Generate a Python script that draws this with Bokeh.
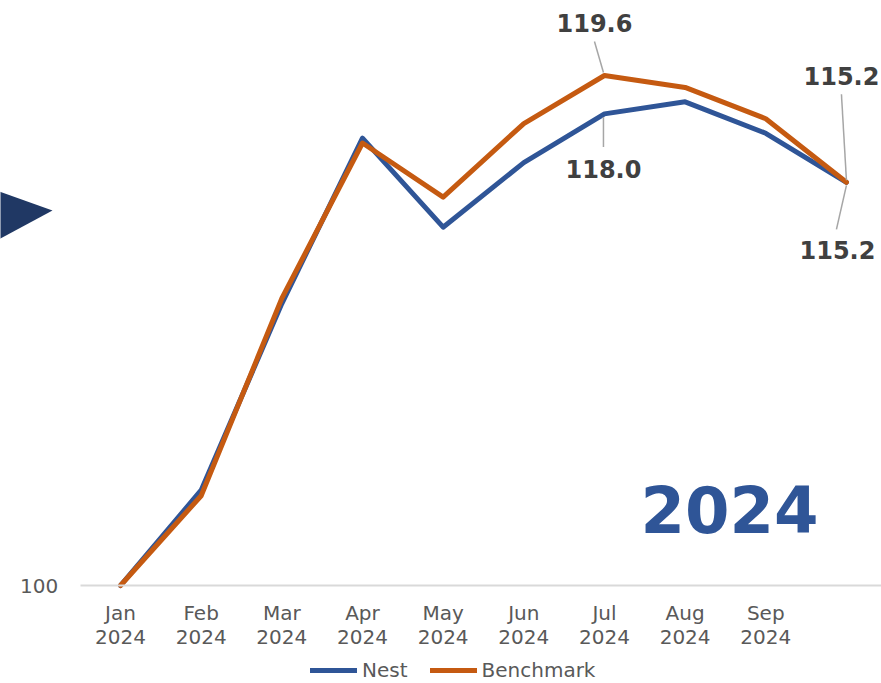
import math
from bokeh.plotting import figure
from bokeh.models import (Range1d, FixedTicker, PrintfTickFormatter, Legend, LegendItem,
                          PolyAnnotation, Label)
from bokeh.core.properties import value
from bokeh.embed import file_html
from bokeh.resources import INLINE

# ---- data ----
months = ["Jan 2024", "Feb 2024", "Mar 2024", "Apr 2024", "May 2024",
          "Jun 2024", "Jul 2024", "Aug 2024", "Sep 2024", "Oct 2024"]
nest = [100.0, 103.4, 110.4, 117.0, 113.4, 116.0, 118.0, 118.5, 117.2, 115.2]
benchmark = [100.0, 103.2, 110.6, 116.8, 114.6, 117.6, 119.6, 119.1, 117.8, 115.2]
shown_ticks = 9          # the last month carries no axis label in the original
y_ticks = [100]
y_base = 100
year_title = "2024"

NEST_COLOR = "#2F5597"
BENCH_COLOR = "#C55A11"
FONT = "DejaVu Sans"

# ---- layout (pixels) ----
W, H = 881, 683
FIRST_PX = 120        # centre of the first month
PITCH = 80.66         # pixels per month
BASE_PX = 585         # height of the base line
DECADE = 6561         # pixels per decade on the log axis

px_x = PITCH
px_dec = DECADE
x0 = -FIRST_PX / px_x
x1 = x0 + W / px_x
y0 = y_base * 10 ** (-(H - BASE_PX) / px_dec)
y1 = y_base * 10 ** (BASE_PX / px_dec)

p = figure(width=W, height=H, output_backend="svg", toolbar_location=None,
           x_range=Range1d(x0, x1), y_range=Range1d(y0, y1), y_axis_type="log",
           min_border_left=0, min_border_right=0, min_border_top=0,
           min_border_bottom=0)
p.outline_line_color = None
p.xgrid.grid_line_color = None
p.ygrid.grid_line_color = None
p.background_fill_color = "white"
p.border_fill_color = "white"

def off(i, v, dx, dy):
    return i + dx / px_x, v * 10 ** (-dy / px_dec)

def page(px, py):
    return x0 + px / px_x, y_base * 10 ** ((BASE_PX - py) / px_dec)

# decorative arrow at the left edge
tri = [page(-4, 190), page(52, 210), page(-4, 240)]
p.add_layout(PolyAnnotation(xs=[t[0] for t in tri], ys=[t[1] for t in tri],
                            fill_color="#203864", fill_alpha=1.0,
                            line_alpha=0))

xs = list(range(len(months)))
r_nest = p.line(xs, nest, line_color=NEST_COLOR, line_width=5, line_join="round", line_cap="round")
r_bench = p.line(xs, benchmark, line_color=BENCH_COLOR, line_width=5, line_join="round", line_cap="round")

# axes, drawn inside the frame
xa = p.xaxis[0]
xa.fixed_location = y_base
xa.bounds = (-0.5, x1)
xa.ticker = FixedTicker(ticks=xs[:shown_ticks])
xa.major_label_overrides = {i: months[i].replace(" ", "\n") for i in xs[:shown_ticks]}
xa.axis_line_color = "#D9D9D9"
xa.axis_line_width = 2
xa.major_tick_line_color = None
xa.minor_tick_line_color = None
xa.major_tick_out = 0
xa.major_tick_in = 0
xa.major_label_standoff = 15
xa.major_label_text_font = FONT
xa.major_label_text_font_size = "20px"
xa.major_label_text_line_height = 1.0
xa.major_label_text_color = "#595959"

ya = p.yaxis[0]
ya.fixed_location = -0.5
ya.ticker = FixedTicker(ticks=y_ticks)
ya.formatter = PrintfTickFormatter(format="%d")
ya.axis_line_color = None
ya.major_tick_line_color = None
ya.minor_tick_line_color = None
ya.major_tick_out = 0
ya.major_tick_in = 0
ya.major_label_standoff = 22
ya.major_label_text_font = FONT
ya.major_label_text_font_size = "20px"
ya.major_label_text_color = "#595959"

# callouts: (series, index, label offset, leader start, leader end)
callouts = [
    (benchmark, 6, (-10, -53), (-10, -34), (-1, -3)),
    (nest, 6, (-1, 55), (-1, 3), (-1, 33)),
    (benchmark, 9, (-5, -106), (-5, -88), (0, -2)),
    (nest, 9, (-9, 68), (0, 3), (-10, 47)),
]
lx, ly, lt = [], [], []
sx0, sy0, sx1, sy1 = [], [], [], []
for series, i, lo, a, b in callouts:
    v = series[i]
    x, y = off(i, v, *lo)
    lx.append(x); ly.append(y); lt.append(f"{v:.1f}")
    xa_, ya_ = off(i, v, *a)
    xb_, yb_ = off(i, v, *b)
    sx0.append(xa_); sy0.append(ya_); sx1.append(xb_); sy1.append(yb_)

p.segment(sx0, sy0, sx1, sy1, line_color="#A6A6A6", line_width=1.5)
p.text(lx, ly, text=lt, text_align="center", text_baseline="middle",
       text_font_size="24px", text_font_style="bold", text_color="#404040",
       text_font=value(FONT))

# big year label
yx, yy = page(729, 509)
p.add_layout(Label(x=yx, y=yy, text=year_title, text_align="center",
                   text_baseline="middle", text_font_size="64px",
                   text_font_style="bold", text_color=NEST_COLOR, text_font=FONT))

legend = Legend(items=[LegendItem(label="Nest", renderers=[r_nest]),
                       LegendItem(label="Benchmark", renderers=[r_bench])],
                orientation="horizontal", location=(310, 1),
                glyph_width=47, glyph_height=20, label_standoff=5, spacing=22,
                padding=0, margin=0, border_line_alpha=0, background_fill_alpha=0,
                label_text_font_size="20px", label_text_color="#595959",
                label_text_font=FONT)
p.add_layout(legend)

open("out.html", "w").write(file_html(p, INLINE))
